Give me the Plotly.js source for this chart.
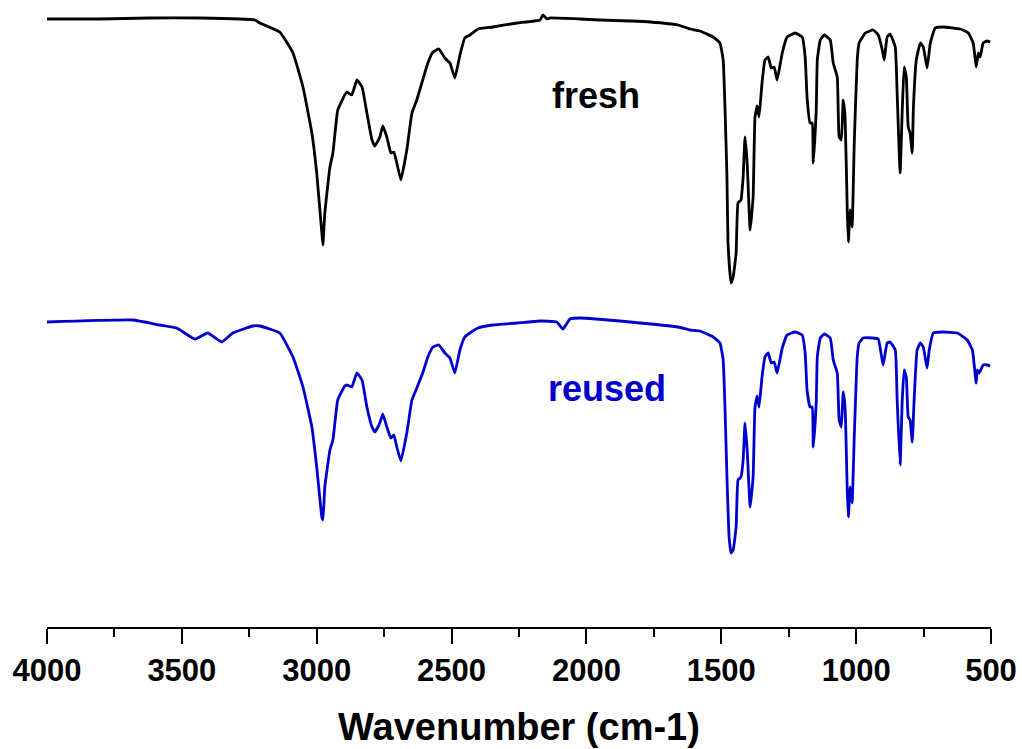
<!DOCTYPE html>
<html>
<head>
<meta charset="utf-8">
<script src="https://cdn.plot.ly/plotly-3.0.1.min.js"></script>
<style>html,body{margin:0;padding:0;background:#fff;}#chart{width:1022px;height:749px;}</style>
</head>
<body>
<div id="chart"></div>
<script>
// Wavenumbers (cm-1) and offset transmittance (a.u.)
const freshWavenumber = [4000,3804,3619,3433,3229,3211,3137,3088,3051,3018,3000,2981,2977,2970,2951,2940,2922,2896,2888,2870,2851,2832,2814,2795,2784,2766,2755,2740,2725,2714,2703,2688,2666,2647,2629,2607,2588,2569,2547,2525,2506,2488,2469,2451,2432,2402,2347,2258,2172,2161,2146,2135,2024,1950,1838,1764,1660,1616,1579,1530,1505,1493,1486,1479,1475,1464,1456,1445,1438,1427,1419,1412,1404,1393,1382,1375,1367,1360,1349,1338,1326,1315,1304,1293,1274,1256,1226,1200,1189,1182,1171,1163,1159,1148,1144,1133,1118,1096,1085,1070,1063,1055,1048,1041,1033,1029,1022,1015,1007,996,989,966,937,918,903,896,885,874,855,848,837,829,822,814,807,800,792,788,777,762,751,737,725,707,677,614,584,566,555,547,540,529,514,503];
const freshSignal = [608,608,609,609,607,604,595,574,540,494,454,394,382,414,460,474,517,532,535,532,547,540,514,487,481,490,501,490,474,475,464,447,477,514,527,547,564,575,578,569,564,549,572,589,592,598,600,604,607,612,608,609,608,607,606,605,602,598,596,590,584,567,517,450,384,344,350,374,424,427,450,490,464,397,430,510,521,510,544,567,570,559,560,547,574,590,594,590,570,530,504,504,464,517,567,587,592,587,564,550,490,487,527,510,417,385,417,400,484,567,584,594,597,592,577,567,590,593,580,534,454,517,560,550,500,494,474,517,567,584,580,559,584,599,600,598,594,584,560,574,570,584,586,585];

const reusedWavenumber = [4000,3682,3582,3519,3452,3404,3352,3311,3237,3211,3137,3088,3051,3018,3000,2981,2977,2970,2951,2940,2922,2896,2888,2870,2851,2832,2814,2795,2784,2766,2755,2740,2725,2714,2703,2688,2666,2647,2629,2607,2588,2569,2547,2525,2506,2488,2469,2451,2432,2402,2347,2258,2172,2110,2087,2061,2024,1838,1660,1616,1579,1530,1505,1493,1486,1479,1471,1464,1456,1445,1438,1427,1419,1412,1404,1393,1382,1375,1367,1360,1349,1338,1326,1315,1304,1293,1274,1256,1226,1200,1189,1182,1171,1163,1159,1148,1144,1133,1118,1096,1085,1070,1063,1055,1048,1041,1033,1029,1022,1015,1007,996,989,974,940,918,900,885,874,855,848,837,829,822,814,807,800,792,785,774,762,751,737,729,714,677,625,588,569,555,551,544,529,514,503];
const reusedSignal = [305,307,302,299,288,294,285,294,301,301,294,270,240,200,160,110,107,140,177,187,227,241,242,240,254,247,220,200,195,204,213,200,189,192,180,166,194,227,239,254,270,280,282,274,269,254,277,290,294,299,302,304,306,305,298,308,309,305,300,297,296,290,284,267,217,150,90,74,77,100,147,150,167,204,177,120,150,220,231,220,250,270,274,264,265,254,279,292,295,292,274,237,220,220,180,224,270,289,293,289,267,254,207,200,235,220,137,110,140,124,190,270,284,289,289,288,262,284,285,277,227,162,227,257,250,210,207,185,227,277,284,280,259,277,294,295,294,287,277,244,257,254,262,262,261];

const seriesNames = ['fresh','reused'];
const seriesColors = ['#000000','#0000cd'];
const xTickValues = [4000,3500,3000,2500,2000,1500,1000,500];

const traces = [
  {x: freshWavenumber, y: freshSignal, name: seriesNames[0], type: 'scatter', mode: 'lines',
   line: {color: seriesColors[0], width: 2.8, shape: 'spline', smoothing: 0.35}},
  {x: reusedWavenumber, y: reusedSignal, name: seriesNames[1], type: 'scatter', mode: 'lines',
   line: {color: seriesColors[1], width: 2.8, shape: 'spline', smoothing: 0.35}}
];

const layout = {
  width: 1022, height: 749,
  paper_bgcolor: '#ffffff', plot_bgcolor: '#ffffff',
  margin: {l: 47, r: 31, t: 0, b: 122},
  showlegend: false,
  font: {family: 'Liberation Sans, Arial, sans-serif', color: '#000'},
  xaxis: {
    range: [4000, 500], autorange: false,
    tickvals: xTickValues, ticktext: xTickValues.map(String),
    ticks: 'outside', ticklen: 15, tickwidth: 2, tickcolor: '#000',
    showline: true, linecolor: '#000', linewidth: 2, mirror: false,
    showgrid: false, zeroline: false,
    tickfont: {family: 'Liberation Sans, Arial, sans-serif', size: 31, color: '#000', weight: 'bold'},
    minor: {ticks: 'outside', ticklen: 8, tickwidth: 2, tickcolor: '#000', dtick: 250, tick0: 500, showgrid: false},
    title: {text: '<b>Wavenumber (cm-1)</b>', font: {family: 'Liberation Sans, Arial, sans-serif', size: 38, color: '#000'}, standoff: 26},
    automargin: false
  },
  yaxis: {range: [0, 627], autorange: false, visible: false, showgrid: false, zeroline: false},
  annotations: [
    {x: 1964, y: 532, xref: 'x', yref: 'y', text: '<b>fresh</b>', showarrow: false,
     font: {family: 'Liberation Sans, Arial, sans-serif', size: 36, color: seriesColors[0]}},
    {x: 1923, y: 239, xref: 'x', yref: 'y', text: '<b>reused</b>', showarrow: false,
     font: {family: 'Liberation Sans, Arial, sans-serif', size: 36, color: seriesColors[1]}}
  ]
};

Plotly.newPlot('chart', traces, layout, {displayModeBar: false, staticPlot: true});
</script>
</body>
</html>
